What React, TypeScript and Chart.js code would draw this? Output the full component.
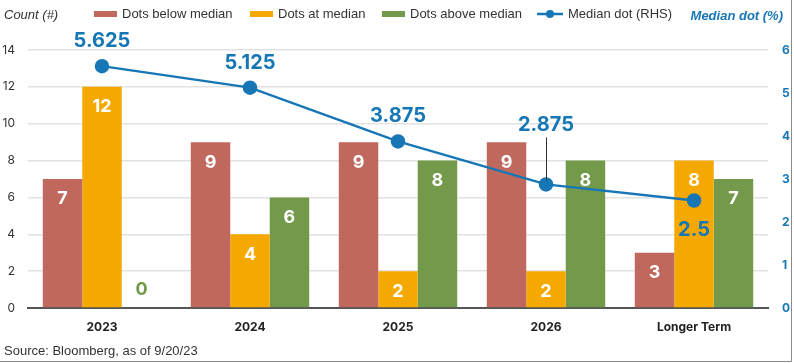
import React, { useEffect, useRef } from "react";
import { Chart, registerables } from "chart.js";

Chart.register(...registerables);

const categories = ["2023", "2024", "2025", "2026", "Longer Term"];
const dotsBelow = [7, 9, 9, 9, 3];
const dotsAt = [12, 4, 2, 2, 8];
const dotsAbove = [0, 6, 8, 8, 7];
const medianDot = [5.625, 5.125, 3.875, 2.875, 2.5];
const medianLabels = ["5.625", "5.125", "3.875", "2.875", "2.5"];

const RED = "#C0685D";
const ORANGE = "#F5A800";
const GREEN = "#739A4A";
const BLUE = "#1777B6";
const TEXT = "#333333";
const NUM_FONT = "Inter, 'Noto Sans', sans-serif";
const TXT_FONT = "'Liberation Sans', Arial, sans-serif";

// label placement relative to line point: [dy, leader]
const lineLabelPos = ["above", "above", "above", "leader", "below"];

const decorPlugin = {
  id: "decor",
  afterDatasetsDraw(chart: any) {
    const ctx = chart.ctx;
    ctx.save();
    // bar labels
    for (let d = 0; d < 3; d++) {
      const meta = chart.getDatasetMeta(d);
      const ds = chart.data.datasets[d];
      meta.data.forEach((el: any, i: number) => {
        const v = ds.data[i];
        ctx.font = `bold 18px ${NUM_FONT}`;
        ctx.textAlign = "center";
        ctx.textBaseline = "middle";
        if (v === 0) {
          ctx.fillStyle = ds.backgroundColor;
          ctx.fillText(String(v), el.x, el.base - 18);
        } else {
          ctx.fillStyle = "#ffffff";
          ctx.fillText(String(v), el.x, el.y + 20);
        }
      });
    }
    // line labels
    const lmeta = chart.getDatasetMeta(3);
    lmeta.data.forEach((el: any, i: number) => {
      ctx.font = `bold 20px ${NUM_FONT}`;
      ctx.textAlign = "center";
      ctx.textBaseline = "middle";
      ctx.fillStyle = BLUE;
      const pos = lineLabelPos[i];
      if (pos === "above") {
        ctx.fillText(medianLabels[i], el.x, el.y - 25);
      } else if (pos === "below") {
        ctx.fillText(medianLabels[i], el.x, el.y + 29);
      } else {
        ctx.fillText(medianLabels[i], el.x, el.y - 59);
        ctx.strokeStyle = "#333";
        ctx.lineWidth = 1;
        ctx.beginPath();
        ctx.moveTo(el.x + 0.5, el.y - 47);
        ctx.lineTo(el.x + 0.5, el.y - 4);
        ctx.stroke();
      }
    });
    ctx.restore();
  },
  afterDraw(chart: any) {
    const ctx = chart.ctx;
    ctx.save();
    // axis titles
    ctx.textBaseline = "middle";
    ctx.textAlign = "left";
    ctx.fillStyle = TEXT;
    ctx.font = `italic 13px ${TXT_FONT}`;
    ctx.fillText("Count (#)", 4, 15);
    ctx.fillStyle = BLUE;
    ctx.font = `italic bold 13px ${TXT_FONT}`;
    ctx.textAlign = "right";
    ctx.fillText("Median dot (%)", 783, 16);
    // legend
    ctx.textAlign = "left";
    ctx.font = `13px ${TXT_FONT}`;
    const items = [
      { x: 94, color: RED, label: "Dots below median", type: "box" },
      { x: 250, color: ORANGE, label: "Dots at median", type: "box" },
      { x: 382, color: GREEN, label: "Dots above median", type: "box" },
      { x: 537, color: BLUE, label: "Median dot (RHS)", type: "line" },
    ];
    const ly = 14;
    items.forEach((it) => {
      if (it.type === "box") {
        ctx.fillStyle = it.color;
        ctx.fillRect(it.x, ly - 3, 23, 6);
        ctx.fillStyle = TEXT;
        ctx.fillText(it.label, it.x + 28, ly);
      } else {
        ctx.strokeStyle = it.color;
        ctx.lineWidth = 2.5;
        ctx.beginPath();
        ctx.moveTo(it.x, ly);
        ctx.lineTo(it.x + 26, ly);
        ctx.stroke();
        ctx.fillStyle = it.color;
        ctx.beginPath();
        ctx.arc(it.x + 13, ly, 4, 0, Math.PI * 2);
        ctx.fill();
        ctx.fillStyle = TEXT;
        ctx.fillText(it.label, it.x + 31, ly);
      }
    });
    // source
    ctx.fillStyle = TEXT;
    ctx.font = `13px ${TXT_FONT}`;
    ctx.fillText("Source: Bloomberg, as of 9/20/23", 4, 351);
    // frame
    ctx.strokeStyle = "#8a8a8a";
    ctx.lineWidth = 1;
    ctx.beginPath();
    ctx.moveTo(791.5, 0);
    ctx.lineTo(791.5, 361.5);
    ctx.lineTo(0, 361.5);
    ctx.stroke();
    ctx.restore();
  },
};

export default function App() {
  const ref = useRef<HTMLCanvasElement | null>(null);
  useEffect(() => {
    document.body.style.margin = "0";
    const canvas = ref.current!;
    const chart = new Chart(canvas, {
      type: "bar",
      data: {
        labels: categories,
        datasets: [
          { label: "Dots below median", data: dotsBelow, backgroundColor: RED, yAxisID: "y", order: 1 },
          { label: "Dots at median", data: dotsAt, backgroundColor: ORANGE, yAxisID: "y", order: 1 },
          { label: "Dots above median", data: dotsAbove, backgroundColor: GREEN, yAxisID: "y", order: 1 },
          {
            type: "line",
            label: "Median dot (RHS)",
            data: medianDot,
            yAxisID: "y1",
            borderColor: BLUE,
            backgroundColor: BLUE,
            borderWidth: 2.5,
            pointRadius: 6,
            pointBackgroundColor: BLUE,
            pointBorderColor: BLUE,
            tension: 0,
            order: 0,
          } as any,
        ],
      },
      options: {
        responsive: false,
        animation: false,
        devicePixelRatio: 1,
        layout: { padding: { top: 50, left: 0, right: 0, bottom: 0 } },
        datasets: { bar: { barPercentage: 1, categoryPercentage: 0.8 } },
        plugins: { legend: { display: false }, tooltip: { enabled: false } },
        scales: {
          x: {
            grid: { display: false, drawTicks: false },
            border: { display: true, color: "#555555", width: 2 },
            ticks: { padding: 12, color: "#222", font: { family: NUM_FONT, size: 12, weight: "bold" } },
            afterFit: (s: any) => { s.height = 55; },
          },
          y: {
            position: "left",
            min: 0,
            max: 14,
            ticks: { stepSize: 2, padding: 13, color: TEXT, font: { family: NUM_FONT, size: 12 } },
            grid: { color: (c: any) => (c.tick && c.tick.value === 0 ? "rgba(0,0,0,0)" : "#e2e2e2"), lineWidth: 1.5, drawTicks: false },
            border: { display: false },
            afterFit: (s: any) => { s.width = 28; },
          },
          y1: {
            position: "right",
            min: 0,
            max: 6,
            ticks: { stepSize: 1, padding: 14, color: BLUE, font: { family: NUM_FONT, size: 12, weight: "bold" } },
            grid: { display: false, drawTicks: false },
            border: { display: false },
            afterFit: (s: any) => { s.width = 26; },
          },
        },
      } as any,
      plugins: [decorPlugin],
    });
    return () => chart.destroy();
  }, []);
  return (
    <div style={{ position: "absolute", left: 0, top: 0, width: 794, height: 363, background: "#fff" }}>
      <canvas ref={ref} width={794} height={363} style={{ display: "block", width: 794, height: 363 }} />
    </div>
  );
}
